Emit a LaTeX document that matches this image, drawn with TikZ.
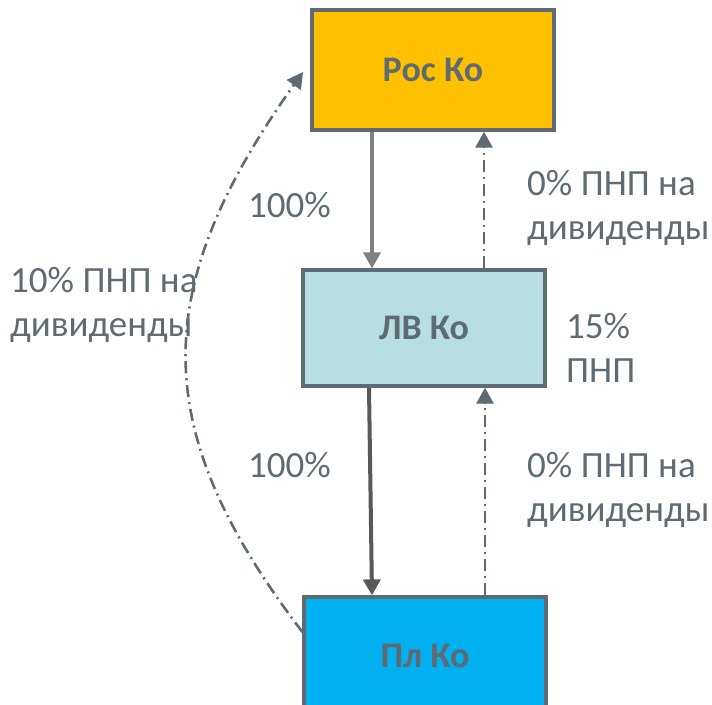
\documentclass[tikz,border=0pt]{standalone}
\usepackage{fontspec}
\setmainfont{Carlito}
\usetikzlibrary{arrows.meta}
\definecolor{txt}{HTML}{5F6B73}
\definecolor{edge}{HTML}{5F6B73}
\definecolor{rocfill}{HTML}{FFC000}
\definecolor{lvfill}{HTML}{B7DEE1}
\definecolor{plfill}{HTML}{00B0F0}
\definecolor{arrA}{HTML}{808080}
\definecolor{arrB}{HTML}{595959}
\tikzset{
  company/.style={draw=edge, line width=3.2pt, minimum width=242pt, text=txt,
    font=\fontsize{36}{44}\selectfont\bfseries, inner sep=0pt},
  lbl/.style={text=txt, font=\fontsize{37}{44}\selectfont, align=left, inner sep=0pt, anchor=west},
  tip/.style={-{Triangle[width=17pt,length=16pt]}},
  ownA/.style={tip, draw=arrA, line width=3.5pt},
  ownB/.style={tip, draw=arrB, line width=4pt},
  divi/.style={tip, draw=edge, line width=2.6pt, dash pattern=on 12pt off 5pt on 2pt off 5pt}
}
\begin{document}
\begin{tikzpicture}[x=1pt,y=-1pt]
\useasboundingbox (0,0) rectangle (712,704);
\node[company, fill=rocfill, minimum height=120pt] (roc) at (433,70) {Рос Ко};
\node[company, fill=lvfill, minimum height=116pt] (lv) at (424,328) {ЛВ Ко};
\node[company, fill=plfill, minimum height=118pt] (pl) at (425,656) {Пл Ко};

\draw[ownA] (roc.south -| 372,0) -- (lv.north -| 372,0);
\draw[ownB] (lv.south -| 369,0) -- (pl.north -| 372,0);
\draw[divi] (lv.north -| 484,0) -- (roc.south -| 484,0);
\draw[divi] (pl.north -| 485,0) -- (lv.south -| 485,0);
\coordinate (plside) at (pl.west |- 0,632);
\coordinate (rocside) at (303,72);
\draw[divi] (plside) .. controls (148,430) and (148,290) .. (rocside);

\node[lbl] (p1) at (248,205) {100\%};
\node[lbl] (p2) at (248,465) {100\%};
\node[lbl] (d1) at (527,208) {0\% ПНП на\\дивиденды};
\node[lbl] (d2) at (527,490) {0\% ПНП на\\дивиденды};
\node[lbl] (d3) at (10,305) {10\% ПНП на\\дивиденды};
\node[lbl] (t1) at (566,348) {15\%\\ПНП};
\end{tikzpicture}
\end{document}
